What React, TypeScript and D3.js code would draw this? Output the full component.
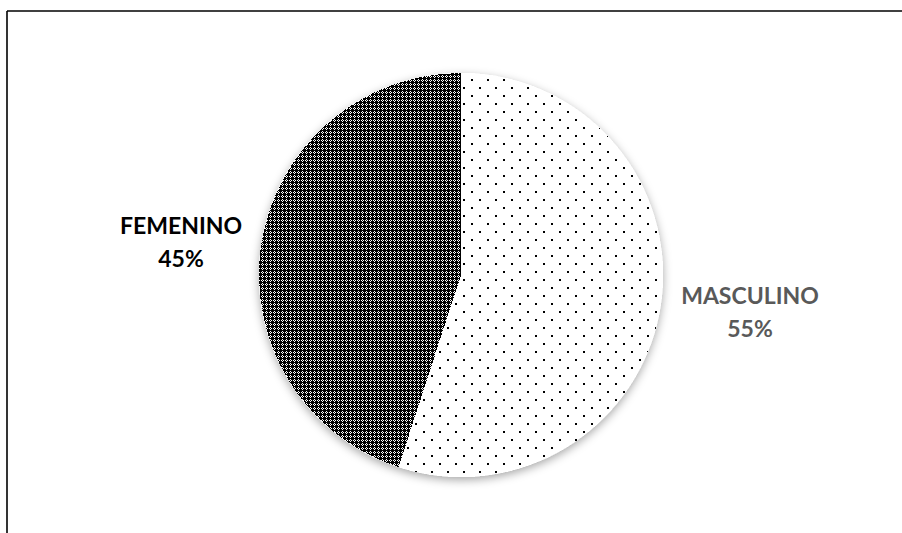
import React from "react";
import * as d3 from "d3";

const categories = ["MASCULINO", "FEMENINO"];
const values = [55, 45];
const labelColors = ["#595959", "#000000"];

const W = 902;
const H = 533;
const cx = 461;
const cy = 275;
const R = 202;

export default function App() {
  const pie = d3.pie<number>().sort(null).value((d) => d)(values);
  const arc = d3.arc<d3.PieArcDatum<number>>().innerRadius(0).outerRadius(R);
  const total = d3.sum(values);
  const fills = ["url(#dots)", "url(#dense)"];
  const labelPos: [number, number][] = [
    [750, 304],
    [181, 234],
  ];
  return (
    <svg
      width={W}
      height={H}
      style={{ position: "absolute", left: 0, top: 0, background: "#fff" }}
    >
      <defs>
        <pattern id="dots" patternUnits="userSpaceOnUse" width={16} height={16}>
          <rect width={16} height={16} fill="#fff" />
          <rect x={10} y={12} width={2} height={2} fill="#000" />
          <rect x={2} y={4} width={2} height={2} fill="#000" />
        </pattern>
        <pattern id="dense" patternUnits="userSpaceOnUse" width={4} height={4}>
          <rect width={4} height={4} fill="#000" />
          <rect x={1} y={0} width={1} height={1} fill="#fff" />
          <rect x={0} y={1} width={1} height={1} fill="#fff" />
          <rect x={2} y={1} width={1} height={1} fill="#fff" />
          <rect x={1} y={2} width={1} height={1} fill="#fff" />
        </pattern>
        <filter id="shadow" x="-20%" y="-20%" width="140%" height="140%">
          <feDropShadow dx={0} dy={3} stdDeviation={5} floodColor="#000" floodOpacity={0.35} />
        </filter>
      </defs>
      <line x1={7} y1={11} x2={W} y2={11} stroke="#000" strokeWidth={1.6} />
      <line x1={7} y1={11} x2={7} y2={H} stroke="#000" strokeWidth={1.6} />
      <g transform={`translate(${cx},${cy})`}>
        <g filter="url(#shadow)">
          <circle r={R} fill="#fff" />
        </g>
        {pie.map((p, i) => (
          <path key={categories[i]} d={arc(p) || ""} fill={fills[i]} shapeRendering="crispEdges" />
        ))}
      </g>
      {categories.map((c, i) => (
        <text
          key={c}
          x={labelPos[i][0]}
          y={labelPos[i][1]}
          textAnchor="middle"
          fontFamily="Lato, 'Open Sans', sans-serif"
          fontWeight="bold"
          fontSize={23}
          fill={labelColors[i]}
        >
          <tspan x={labelPos[i][0]}>{c}</tspan>
          <tspan x={labelPos[i][0]} dy={33}>
            {Math.round((values[i] / total) * 100)}%
          </tspan>
        </text>
      ))}
    </svg>
  );
}
